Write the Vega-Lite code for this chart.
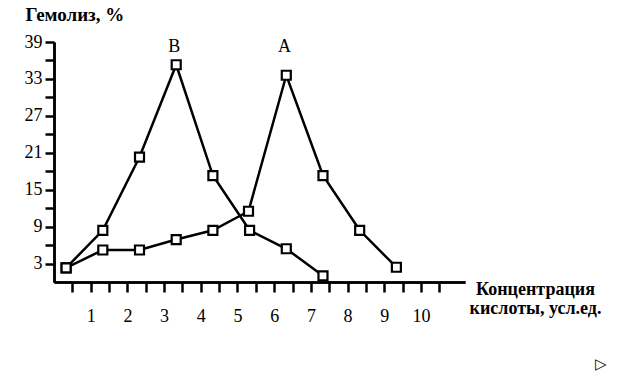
{
  "$schema": "https://vega.github.io/schema/vega-lite/v6.json",
  "width": 411,
  "height": 240,
  "autosize": {"type": "none"},
  "padding": {"left": 54, "top": 42, "right": 175, "bottom": 98},
  "background": "white",
  "config": {"view": {"stroke": null}, "font": "Liberation Serif"},
  "datasets": {
    "pts": [
      {"series": "B", "x": 0.33, "y": 2.3},
      {"series": "B", "x": 1.33, "y": 8.4},
      {"series": "B", "x": 2.33, "y": 20.3},
      {"series": "B", "x": 3.33, "y": 35.3},
      {"series": "B", "x": 4.33, "y": 17.3},
      {"series": "B", "x": 5.33, "y": 8.4},
      {"series": "B", "x": 6.33, "y": 5.4},
      {"series": "B", "x": 7.33, "y": 1.0},
      {"series": "A", "x": 0.33, "y": 2.3},
      {"series": "A", "x": 1.33, "y": 5.2},
      {"series": "A", "x": 2.33, "y": 5.2},
      {"series": "A", "x": 3.33, "y": 6.9},
      {"series": "A", "x": 4.33, "y": 8.4},
      {"series": "A", "x": 5.3, "y": 11.5},
      {"series": "A", "x": 6.33, "y": 33.6},
      {"series": "A", "x": 7.33, "y": 17.3},
      {"series": "A", "x": 8.33, "y": 8.4},
      {"series": "A", "x": 9.33, "y": 2.4}
    ],
    "labels": [
      {"text": "B", "x": 3.28, "y": 38.2, "font": "Liberation Serif", "size": 18},
      {"text": "A", "x": 6.28, "y": 38.2, "font": "Liberation Serif", "size": 18},
      {"text": "▷", "x": 14.9, "y": -13.4, "font": "DejaVu Sans", "size": 15}
    ]
  },
  "resolve": {"axis": {"x": "independent", "y": "independent"}},
  "layer": [
    {
      "data": {"name": "pts"},
      "mark": {"type": "line", "strokeWidth": 2.5, "color": "black"},
      "encoding": {
        "x": {
          "field": "x", "type": "quantitative",
          "scale": {"domain": [0, 11.2], "nice": false, "zero": false},
          "axis": {
            "orient": "bottom",
            "values": [1, 2, 3, 4, 5, 6, 7, 8, 9, 10],
            "grid": false,
            "domainColor": "black", "domainWidth": 2.5,
            "tickColor": "black", "tickWidth": 2.5, "tickSize": 10,
            "labelFont": "Liberation Serif", "labelFontSize": 18, "labelColor": "black",
            "labelPadding": 15, "labelFlush": false, "labelOverlap": false,
            "title": ["Концентрация", "кислоты, усл.ед."],
            "titleFont": "Liberation Serif", "titleFontSize": 18, "titleFontWeight": "bold",
            "titleColor": "black", "titleAlign": "center", "titleBaseline": "top",
            "titleX": 481, "titleY": -2, "titleLineHeight": 19, "titleAnchor": null
          }
        },
        "y": {
          "field": "y", "type": "quantitative",
          "scale": {"domain": [0, 39], "nice": false, "zero": true},
          "axis": {
            "orient": "left",
            "values": [3, 9, 15, 21, 27, 33, 39],
            "grid": false,
            "domainColor": "black", "domainWidth": 2.5,
            "tickColor": "black", "tickWidth": 2.5, "tickSize": 9,
            "labelFont": "Liberation Serif", "labelFontSize": 18, "labelColor": "black",
            "labelPadding": 3, "labelFlush": false, "labelOverlap": false,
            "title": "Гемолиз, %",
            "titleFont": "Liberation Serif", "titleFontSize": 19, "titleFontWeight": "bold",
            "titleColor": "black", "titleAngle": 0, "titleAlign": "left", "titleBaseline": "middle",
            "titleX": -29, "titleY": -28
          }
        },
        "detail": {"field": "series"}
      }
    },
    {
      "data": {"name": "pts"},
      "mark": {"type": "point", "shape": "square", "size": 81, "filled": true, "fill": "white", "stroke": "black", "strokeWidth": 2.2, "opacity": 1},
      "encoding": {
        "x": {
          "field": "x", "type": "quantitative",
          "scale": {"domain": [0, 11.2], "nice": false, "zero": false},
          "axis": {
            "orient": "bottom",
            "values": [0.5, 1.5, 2.5, 3.5, 4.5, 5.5, 6.5, 7.5, 8.5, 9.5, 10.5],
            "labels": false, "grid": false, "title": null,
            "domainColor": "black", "domainWidth": 2.5,
            "tickColor": "black", "tickWidth": 2.5, "tickSize": 10
          }
        },
        "y": {
          "field": "y", "type": "quantitative",
          "scale": {"domain": [0, 39], "nice": false, "zero": true},
          "axis": {
            "orient": "left",
            "values": [6, 12, 18, 24, 30, 36],
            "labels": false, "grid": false, "title": null,
            "domainColor": "black", "domainWidth": 2.5,
            "tickColor": "black", "tickWidth": 2.5, "tickSize": 9
          }
        }
      }
    },
    {
      "data": {"name": "labels"},
      "mark": {"type": "text", "color": "black", "clip": false, "baseline": "middle", "align": "center"},
      "encoding": {
        "x": {"field": "x", "type": "quantitative", "axis": null},
        "y": {"field": "y", "type": "quantitative", "axis": null},
        "text": {"field": "text"},
        "font": {"field": "font"},
        "size": {"field": "size", "type": "quantitative", "scale": null}
      }
    }
  ]
}
